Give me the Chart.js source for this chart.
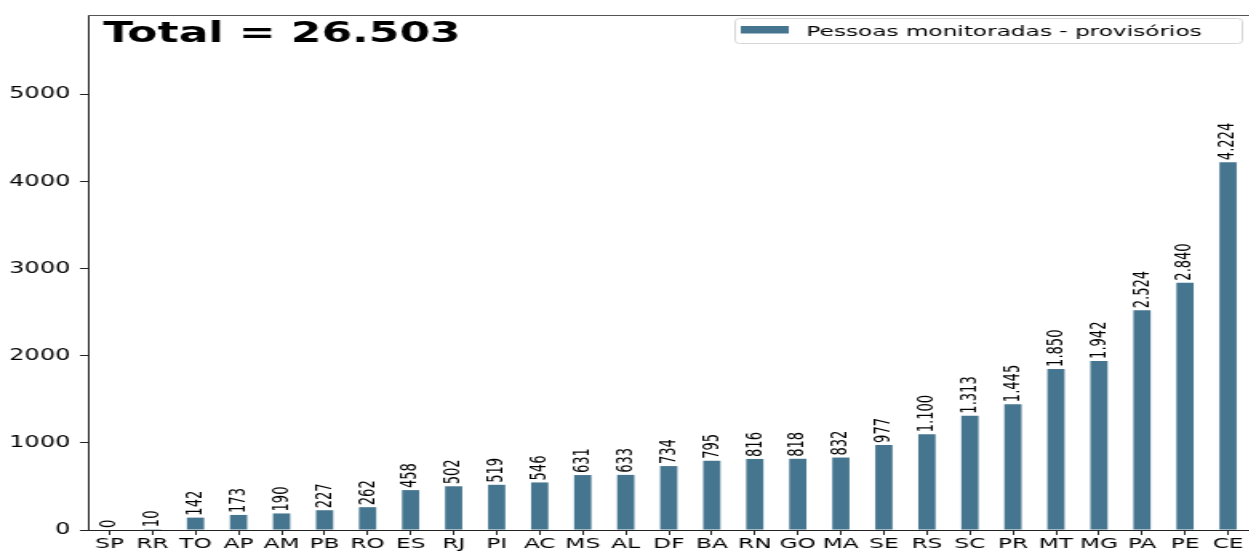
<!DOCTYPE html>
<html>
<head>
<meta charset="utf-8">
<script src="https://cdn.jsdelivr.net/npm/chart.js@4/dist/chart.umd.min.js"></script>
<style>
    html, body { margin: 0; padding: 0; background: #fff; overflow: hidden; }
    #wrap { width: 781px; height: 555px; transform: scaleX(1.6); transform-origin: 0 0; }
</style>
</head>
<body>
<div id="wrap"><canvas id="myChart" width="781" height="555"></canvas></div>
<script>
var estados = ["SP", "RR", "TO", "AP", "AM", "PB", "RO", "ES", "RJ", "PI", "AC", "MS", "AL", "DF",
    "BA", "RN", "GO", "MA", "SE", "RS", "SC", "PR", "MT", "MG", "PA", "PE", "CE"];
var monitoradas = [0, 10, 142, 173, 190, 227, 262, 458, 502, 519, 546, 631, 633, 734,
    795, 816, 818, 832, 977, 1100, 1313, 1445, 1850, 1942, 2524, 2840, 4224];
var yTicks = [0, 1000, 2000, 3000, 4000, 5000];
var legenda = "Pessoas monitoradas - provisórios";
var corBarra = "#46758f";

function fmt(v) {
    return String(v).replace(/\B(?=(\d{3})+(?!\d))/g, ".");
}

var total = monitoradas.reduce(function (a, b) { return a + b }, 0);

var extras = {
    id: "extras",
    afterDatasetsDraw: function (chart) {
        var c = chart.ctx,
            meta = chart.getDatasetMeta(0);
        c.save();
        c.fillStyle = "#000";
        c.font = "14.5px 'DejaVu Sans Condensed', 'Liberation Sans Narrow', sans-serif";
        c.textAlign = "left";
        c.textBaseline = "middle";
        meta.data.forEach(function (bar, i) {
            c.save();
            c.translate(bar.x, bar.y - 2);
            c.rotate(-Math.PI / 2);
            c.fillText(fmt(monitoradas[i]), 0, 0);
            c.restore();
        });
        c.restore();
    },
    afterDraw: function (chart) {
        var c = chart.ctx,
            a = chart.chartArea;
        c.save();
        // top spine
        c.strokeStyle = "#555";
        c.lineWidth = 1;
        c.beginPath();
        c.moveTo(a.left, a.top + 0.5);
        c.lineTo(chart.width, a.top + 0.5);
        c.stroke();

        // title
        c.fillStyle = "#000";
        c.font = "bold 27.5px 'DejaVu Sans', sans-serif";
        c.textAlign = "left";
        c.textBaseline = "alphabetic";
        c.fillText("Total = " + fmt(total), 64.5, 41.5);

        // legend
        c.strokeStyle = "#d6d6d6";
        c.fillStyle = "rgba(255,255,255,0.85)";
        c.beginPath();
        c.roundRect(459.5, 18.5, 317, 25, 3);
        c.fill();
        c.stroke();
        c.fillStyle = corBarra;
        c.fillRect(463, 26, 30, 7.5);
        c.fillStyle = "#000";
        c.font = "14.5px 'DejaVu Sans', sans-serif";
        c.fillText(legenda, 504, 36);
        c.restore();
    }
};

new Chart(document.getElementById("myChart"), {
    type: "bar",
    data: {
        labels: estados,
        datasets: [{
            label: legenda,
            data: monitoradas,
            backgroundColor: corBarra,
            barPercentage: 0.4,
            categoryPercentage: 1.0
        }]
    },
    options: {
        responsive: false,
        animation: false,
        devicePixelRatio: 1,
        layout: { padding: { top: 12, left: 0, right: 0, bottom: 0 } },
        plugins: {
            legend: { display: false },
            tooltip: { enabled: false }
        },
        scales: {
            x: {
                offset: true,
                afterFit: function (s) { s.height = 25 },
                border: { display: true, color: "#222", width: 1 },
                grid: { offset: false, drawOnChartArea: false, drawTicks: true, tickLength: 5, color: "#222" },
                ticks: {
                    color: "#000",
                    padding: 1,
                    maxRotation: 0,
                    autoSkip: false,
                    font: { family: "'DejaVu Sans', sans-serif", size: 14.5 }
                }
            },
            y: {
                min: 0,
                max: 4224 * 1.4,
                afterFit: function (s) { s.width = 55 },
                afterBuildTicks: function (s) {
                    s.ticks = yTicks.map(function (v) { return { value: v } });
                },
                border: { display: true, color: "#222", width: 1 },
                grid: { drawOnChartArea: false, drawTicks: true, tickLength: 5, color: "#222" },
                ticks: {
                    color: "#000",
                    padding: 6,
                    callback: function (v) { return String(v) },
                    font: { family: "'DejaVu Sans', sans-serif", size: 15 }
                }
            }
        }
    },
    plugins: [extras]
});
</script>
</body>
</html>
